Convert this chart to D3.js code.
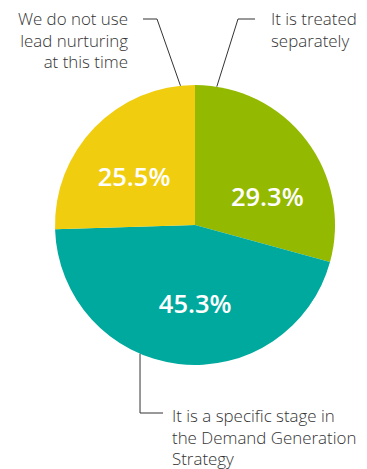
<!DOCTYPE html>
<html>
<head>
<meta charset="utf-8">
<script src="https://cdn.jsdelivr.net/npm/d3@7"></script>
<style>
  html, body { margin: 0; padding: 0; background: #fff; }
  svg { display: block; }
</style>
</head>
<body>
<svg id="chart" width="367" height="469"></svg>
<script>
// Share of respondents by how lead nurturing is handled
const categories = [
  "It is treated separately",
  "It is a specific stage in the Demand Generation Strategy",
  "We do not use lead nurturing at this time"
];
const values = [29.3, 45.3, 25.5];
const valueLabels = ["29.3%", "45.3%", "25.5%"];
const colors = ["#93b900", "#00a99d", "#f0cd0f"];

// Multi-line callout text for each slice
const calloutLines = [
  ["It is treated", "separately"],
  ["It is a specific stage in", "the Demand Generation", "Strategy"],
  ["We do not use", "lead nurturing", "at this time"]
];

const cx = 195, cy = 225, R = 140;
const FONT = "'Open Sans', Lato, sans-serif";

const svg = d3.select("#chart");
const g = svg.append("g").attr("transform", `translate(${cx},${cy})`);

const pie = d3.pie().sort(null).value(d => d);
const arcs = pie(values);
const arc = d3.arc().innerRadius(0).outerRadius(R);

g.selectAll("path.slice")
  .data(arcs)
  .join("path")
  .attr("class", "slice")
  .attr("d", arc)
  .attr("fill", (d, i) => colors[i]);

// Value labels: placed at a fraction of each slice's angular span
const labelR = 78;
const labelT = [0.645, 0.457, 0.44];
const labelPos = (d, i) => {
  const ang = d.startAngle + (d.endAngle - d.startAngle) * labelT[i];
  return [Math.sin(ang) * labelR, -Math.cos(ang) * labelR];
};
g.selectAll("text.val")
  .data(arcs)
  .join("text")
  .attr("class", "val")
  .attr("x", (d, i) => labelPos(d, i)[0])
  .attr("y", (d, i) => labelPos(d, i)[1])
  .attr("text-anchor", "middle")
  .attr("dominant-baseline", "central")
  .attr("fill", "#fff")
  .attr("font-family", FONT)
  .attr("font-weight", 600)
  .attr("font-size", 25.5)
  .text((d, i) => valueLabels[i]);

// Callouts: anchor on the rim (fraction of slice span), elbow and text position
const callouts = [
  { slice: 0, t: 0.085, elbow: [238 - cx, 19 - cy], end: [255 - cx, 19 - cy],
    tx: 271 - cx, ty: 25 - cy, anchor: "start" },
  { slice: 1, t: 0.6, drop: 413 - cy, run: 23,
    tx: 172 - cx, ty: 422 - cy, anchor: "start" },
  { slice: 2, t: 0.935, elbow: [157 - cx, 19 - cy], end: [143 - cx, 19 - cy],
    tx: 128 - cx, ty: 25 - cy, anchor: "end" }
];

const lineH = 21.5;
callouts.forEach(c => {
  const a = arcs[c.slice];
  const ang = a.startAngle + (a.endAngle - a.startAngle) * c.t;
  const p = [Math.sin(ang) * R, -Math.cos(ang) * R];
  // the bottom callout drops straight down from the rim
  const elbow = c.drop !== undefined ? [p[0], c.drop] : c.elbow;
  const end = c.drop !== undefined ? [p[0] + c.run, c.drop] : c.end;
  g.append("polyline")
    .attr("points", [p, elbow, end].map(q => q.join(",")).join(" "))
    .attr("fill", "none")
    .attr("stroke", "#333")
    .attr("stroke-width", 1);
  const t = g.append("text")
    .attr("text-anchor", c.anchor)
    .attr("fill", "#333")
    .attr("font-family", FONT)
    .attr("font-weight", 300)
    .attr("font-size", 16.9);
  calloutLines[c.slice].forEach((line, k) => {
    t.append("tspan").attr("x", c.tx).attr("y", c.ty + k * lineH).text(line);
  });
});
</script>
</body>
</html>
